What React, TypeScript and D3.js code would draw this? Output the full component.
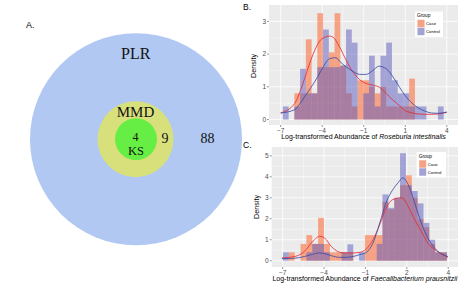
import React, { useEffect, useRef } from 'react';
import * as d3 from 'd3';

// Venn (panel A)
const vennLabels = ['PLR', 'MMD', 'KS'];
const vennCounts = [88, 9, 4];

const groups = ['Case', 'Control'];

// shared x breaks (labels differ per panel)
const xTickValues = [-7, -4.25, -1.5, 1.25, 4];
const xTickLabelsB = ['\u22127', '\u22124', '\u22121', '1', '4'];
const xTickLabelsC = ['\u22127', '\u22124', '\u22121', '2', '4'];

// panel B: Roseburia intestinalis
const yTicksB = [0, 1, 2, 3];
const binStartB = -6.85;
const binWidthB = 0.38;
const caseB = [0, 0, 0.8, 0.8, 2.45, 0.8, 3.25, 1.6, 2.05, 3.25, 1.65, 0.8, 0.4, 1.2, 1.2, 1.0, 0.8, 1.0, 0.4, 0.4, 0.4, 0.4, 1.25, 0, 0, 0, 0, 0];
const controlB = [0.4, 0, 0.4, 1.55, 0.8, 0.8, 1.6, 2.75, 1.6, 1.6, 1.65, 2.75, 2.35, 0, 0.8, 1.95, 0.4, 1.95, 2.35, 1.2, 0.8, 0.8, 0.4, 0.4, 0.4, 0, 0, 0.4];
const caseCurveB = [[-7, 0.2], [-6.07, 0.49], [-5.64, 0.95], [-5.2, 1.55], [-4.75, 2.11], [-4.31, 2.45], [-3.76, 2.55], [-3.54, 2.52], [-3.1, 2.22], [-2.66, 1.81], [-2.21, 1.45], [-1.77, 1.22], [-1.33, 1.1], [-0.89, 1.05], [-0.44, 0.98], [0, 0.79], [0.44, 0.59], [0.88, 0.42], [1.21, 0.28], [1.65, 0.21], [2.09, 0.17], [2.54, 0.16], [3.0, 0.16], [3.42, 0.17], [4.0, 0.22]];
const controlCurveB = [[-7, 0.2], [-6.07, 0.3], [-5.64, 0.54], [-5.2, 0.84], [-4.75, 1.15], [-4.31, 1.5], [-3.76, 1.86], [-3.34, 1.89], [-3.1, 1.78], [-2.66, 1.61], [-2.21, 1.47], [-1.77, 1.38], [-1.33, 1.38], [-0.89, 1.5], [-0.5, 1.63], [0, 1.55], [0.44, 1.3], [0.88, 0.98], [1.21, 0.75], [1.65, 0.52], [2.09, 0.36], [2.54, 0.26], [2.97, 0.2], [3.42, 0.19], [4, 0.23]];

// panel C: Faecalibacterium prausnitzii
const yTicksC = [0, 1, 2, 3, 4, 5];
const binStartC = -6.98;
const binWidthC = 0.389;
const caseC = [0, 0.4, 0, 0.8, 1.22, 0.8, 2.04, 0.8, 0.4, 0.4, 0.4, 0.4, 0, 0, 1.22, 1.22, 1.22, 2.8, 2.45, 2.95, 3.6, 4.07, 3.0, 2.0, 1.6, 0.8, 0.4, 0.4];
const controlC = [0.4, 0, 0, 0, 0.4, 0.8, 0.8, 0.4, 0, 0, 0.4, 0.78, 0, 0.4, 0, 0, 0.8, 3.16, 2.52, 3.0, 5.12, 3.6, 3.32, 2.73, 1.8, 1.0, 0.4, 0.4];
const caseCurveC = [[-7.05, 0.13], [-6.2, 0.2], [-5.54, 0.45], [-5.1, 0.84], [-4.54, 1.16], [-4.21, 1.08], [-3.77, 0.68], [-3.46, 0.49], [-3.21, 0.4], [-2.77, 0.37], [-2.33, 0.37], [-1.88, 0.4], [-1.44, 0.56], [-1.0, 1.0], [-0.55, 1.72], [-0.12, 2.52], [0.33, 2.92], [0.86, 3.0], [0.99, 2.98], [1.33, 2.6], [1.77, 1.96], [2.21, 1.4], [2.65, 0.84], [3.1, 0.53], [3.54, 0.33], [3.98, 0.16]];
const controlCurveC = [[-7.05, 0.1], [-6.2, 0.12], [-5.54, 0.2], [-5.1, 0.29], [-4.54, 0.37], [-4.21, 0.34], [-3.77, 0.24], [-3.46, 0.18], [-3.21, 0.16], [-2.77, 0.16], [-2.33, 0.2], [-1.88, 0.29], [-1.44, 0.4], [-1.0, 0.84], [-0.55, 1.8], [-0.12, 2.79], [0.33, 3.4], [0.66, 3.71], [0.99, 3.95], [1.33, 3.64], [1.77, 2.76], [2.21, 1.8], [2.65, 1.08], [3.1, 0.6], [3.54, 0.33], [3.98, 0.2]];

const caseFill = '#FF5A1E';
const controlFill = '#5A5ABE';
const caseLine = '#E8242C';
const controlLine = '#3546A6';
const sans = 'Liberation Sans, Arial, sans-serif';
const serif = 'Liberation Serif, Times New Roman, serif';

function yTicks2minor(ticks, top) {
  const m = d3.pairs(ticks).map(([a, b]) => (a + b) / 2);
  const last = ticks[ticks.length - 1] + 0.5;
  if (last < top) m.push(last);
  return m;
}

function drawPanel(svg, p) {
  const x = d3.scaleLinear().domain(p.xDomain).range([p.left, p.right]);
  const y = d3.scaleLinear().domain(p.yDomain).range([p.bottom, p.top]);
  const g = svg.append('g');

  g.append('rect')
    .attr('x', p.left).attr('y', p.top)
    .attr('width', p.right - p.left).attr('height', p.bottom - p.top)
    .attr('fill', '#EBEBEB');

  const xMinor = d3.pairs(xTickValues).map(([a, b]) => (a + b) / 2);
  const yMinor = yTicks2minor(p.yTicks, p.yDomain[1]);

  g.selectAll('.xminor').data(xMinor).enter().append('line')
    .attr('x1', d => x(d)).attr('x2', d => x(d))
    .attr('y1', p.top).attr('y2', p.bottom)
    .attr('stroke', '#fff').attr('stroke-width', 0.4);
  g.selectAll('.yminor').data(yMinor).enter().append('line')
    .attr('x1', p.left).attr('x2', p.right)
    .attr('y1', d => y(d)).attr('y2', d => y(d))
    .attr('stroke', '#fff').attr('stroke-width', 0.4);
  g.selectAll('.xmajor').data(xTickValues).enter().append('line')
    .attr('x1', d => x(d)).attr('x2', d => x(d))
    .attr('y1', p.top).attr('y2', p.bottom)
    .attr('stroke', '#fff').attr('stroke-width', 0.8);
  g.selectAll('.ymajor').data(p.yTicks).enter().append('line')
    .attr('x1', p.left).attr('x2', p.right)
    .attr('y1', d => y(d)).attr('y2', d => y(d))
    .attr('stroke', '#fff').attr('stroke-width', 0.8);

  const clipId = 'clip' + p.tag[0];
  svg.append('clipPath').attr('id', clipId).append('rect')
    .attr('x', p.left).attr('y', p.top)
    .attr('width', p.right - p.left).attr('height', p.bottom - p.top);
  const plot = g.append('g').attr('clip-path', `url(#${clipId})`);

  const series = [
    { vals: p.caseVals, fill: caseFill },
    { vals: p.controlVals, fill: controlFill },
  ];
  series.forEach(s => {
    plot.append('g').selectAll('rect')
      .data(s.vals.map((h, i) => ({ x0: p.binStart + i * p.binWidth, h })).filter(d => d.h > 0))
      .enter().append('rect')
      .attr('x', d => x(d.x0))
      .attr('width', d => x(d.x0 + p.binWidth) - x(d.x0))
      .attr('y', d => y(d.h))
      .attr('height', d => y(0) - y(d.h))
      .attr('fill', s.fill)
      .attr('fill-opacity', 0.5);
  });

  const line = d3.line().x(d => x(d[0])).y(d => y(d[1])).curve(d3.curveMonotoneX);
  plot.append('path').attr('d', line(p.caseCurve))
    .attr('fill', 'none').attr('stroke', caseLine).attr('stroke-width', 0.8);
  plot.append('path').attr('d', line(p.controlCurve))
    .attr('fill', 'none').attr('stroke', controlLine).attr('stroke-width', 0.8);

  // axes
  g.selectAll('.ytick').data(p.yTicks).enter().append('line')
    .attr('x1', p.left - 2).attr('x2', p.left)
    .attr('y1', d => y(d)).attr('y2', d => y(d))
    .attr('stroke', '#333').attr('stroke-width', 0.5);
  g.selectAll('.ylab').data(p.yTicks).enter().append('text')
    .attr('x', p.left - 3).attr('y', d => y(d)).attr('dy', '0.35em')
    .attr('text-anchor', 'end').attr('font-size', 6.5).attr('font-family', sans)
    .attr('fill', '#4D4D4D').text(d => d);
  g.selectAll('.xtick').data(xTickValues).enter().append('line')
    .attr('x1', d => x(d)).attr('x2', d => x(d))
    .attr('y1', p.bottom).attr('y2', p.bottom + 2)
    .attr('stroke', '#333').attr('stroke-width', 0.5);
  g.selectAll('.xlab').data(xTickValues).enter().append('text')
    .attr('x', d => x(d)).attr('y', p.bottom + 7.5)
    .attr('text-anchor', 'middle').attr('font-size', 6.5).attr('font-family', sans)
    .attr('fill', '#4D4D4D').text((d, i) => p.xLabels[i]);

  const xt = g.append('text')
    .attr('x', (p.left + p.right) / 2).attr('y', p.bottom + 13.5)
    .attr('text-anchor', 'middle').attr('font-size', 7).attr('font-family', sans).attr('fill', '#000');
  xt.append('tspan').text('Log-transformed Abundance of ');
  xt.append('tspan').attr('font-style', 'italic').text(p.species);

  g.append('text')
    .attr('transform', `translate(${p.left - 13},${p.yTitleY}) rotate(-90)`)
    .attr('text-anchor', 'middle').attr('font-size', 7.2).attr('font-family', sans)
    .text('Density');

  g.append('text').attr('x', p.tagX).attr('y', p.tagY)
    .attr('font-size', 8.5).attr('font-family', sans).text(p.tag);

  // legend
  const L = p.legend;
  const lg = g.append('g');
  lg.append('rect').attr('x', L.x).attr('y', L.y).attr('width', L.w).attr('height', L.h).attr('fill', '#fff');
  lg.append('text').attr('x', L.x + 2).attr('y', L.y + 5.5)
    .attr('font-size', 4.8).attr('font-family', sans).text('Group');
  groups.forEach((name, i) => {
    const ky = L.y + 8.3 + i * 8;
    lg.append('rect').attr('x', L.x + 2.5).attr('y', ky).attr('width', 7).attr('height', 7.4).attr('fill', '#EBEBEB');
    lg.append('rect').attr('x', L.x + 2.5).attr('y', ky).attr('width', 7).attr('height', 7.4)
      .attr('fill', i === 0 ? caseFill : controlFill).attr('fill-opacity', 0.5);
    lg.append('text').attr('x', L.x + 11).attr('y', ky + 5.2)
      .attr('font-size', 4.3).attr('font-family', sans).text(name);
  });
}

export default function App() {
  const ref = useRef(null);

  useEffect(() => {
    const svg = d3.select(ref.current);
    svg.selectAll('*').remove();

    // panel A: nested Venn
    const cx = 136, cy = 139.2;
    const radii = [106, 38, 21];
    const fills = ['#B0C8F2', '#D8E07C', '#66EE44'];
    radii.forEach((r, i) => {
      svg.append('circle').attr('cx', i === 1 ? cx - 0.5 : cx).attr('cy', cy).attr('r', r).attr('fill', fills[i]);
    });
    svg.append('text').attr('x', 26).attr('y', 28).attr('font-size', 9).attr('font-family', sans).text('A.');
    const venTxt = [
      { t: vennLabels[0], x: 135.7, y: 59.3, s: 16 },
      { t: vennLabels[1], x: 135.5, y: 116.7, s: 15 },
      { t: String(vennCounts[2]), x: 135.5, y: 141, s: 12 },
      { t: vennLabels[2], x: 136, y: 155.2, s: 12.5 },
      { t: String(vennCounts[1]), x: 165, y: 143, s: 14 },
      { t: String(vennCounts[0]), x: 207.5, y: 143, s: 14 },
    ];
    venTxt.forEach(d => {
      svg.append('text').attr('x', d.x).attr('y', d.y).attr('text-anchor', 'middle')
        .attr('font-size', d.s).attr('font-family', serif).attr('fill', '#111').text(d.t);
    });

    drawPanel(svg, {
      tag: 'B.', tagX: 243, tagY: 10,
      left: 269, right: 458, top: 5, bottom: 125,
      xDomain: [-7.77, 4.74], yDomain: [-0.167, 3.5],
      yTicks: yTicksB, xLabels: xTickLabelsB, yTitleY: 66,
      binStart: binStartB, binWidth: binWidthB,
      caseVals: caseB, controlVals: controlB,
      caseCurve: caseCurveB, controlCurve: controlCurveB,
      species: 'Roseburia intestinalis',
      legend: { x: 415, y: 11.5, w: 28, h: 25.5 },
    });

    drawPanel(svg, {
      tag: 'C.', tagX: 243, tagY: 148,
      left: 271.7, right: 458, top: 147, bottom: 267,
      xDomain: [-7.73, 4.65], yDomain: [-0.3, 5.42],
      yTicks: yTicksC, xLabels: xTickLabelsC, yTitleY: 207,
      binStart: binStartC, binWidth: binWidthC,
      caseVals: caseC, controlVals: controlC,
      caseCurve: caseCurveC, controlCurve: controlCurveC,
      species: 'Faecalibacterium prausnitzii',
      legend: { x: 416.7, y: 152, w: 29.3, h: 25.5 },
    });
  }, []);

  return (
    <svg ref={ref} width={465} height={284}
      style={{ position: 'absolute', left: 0, top: 0, background: '#fff' }} />
  );
}
